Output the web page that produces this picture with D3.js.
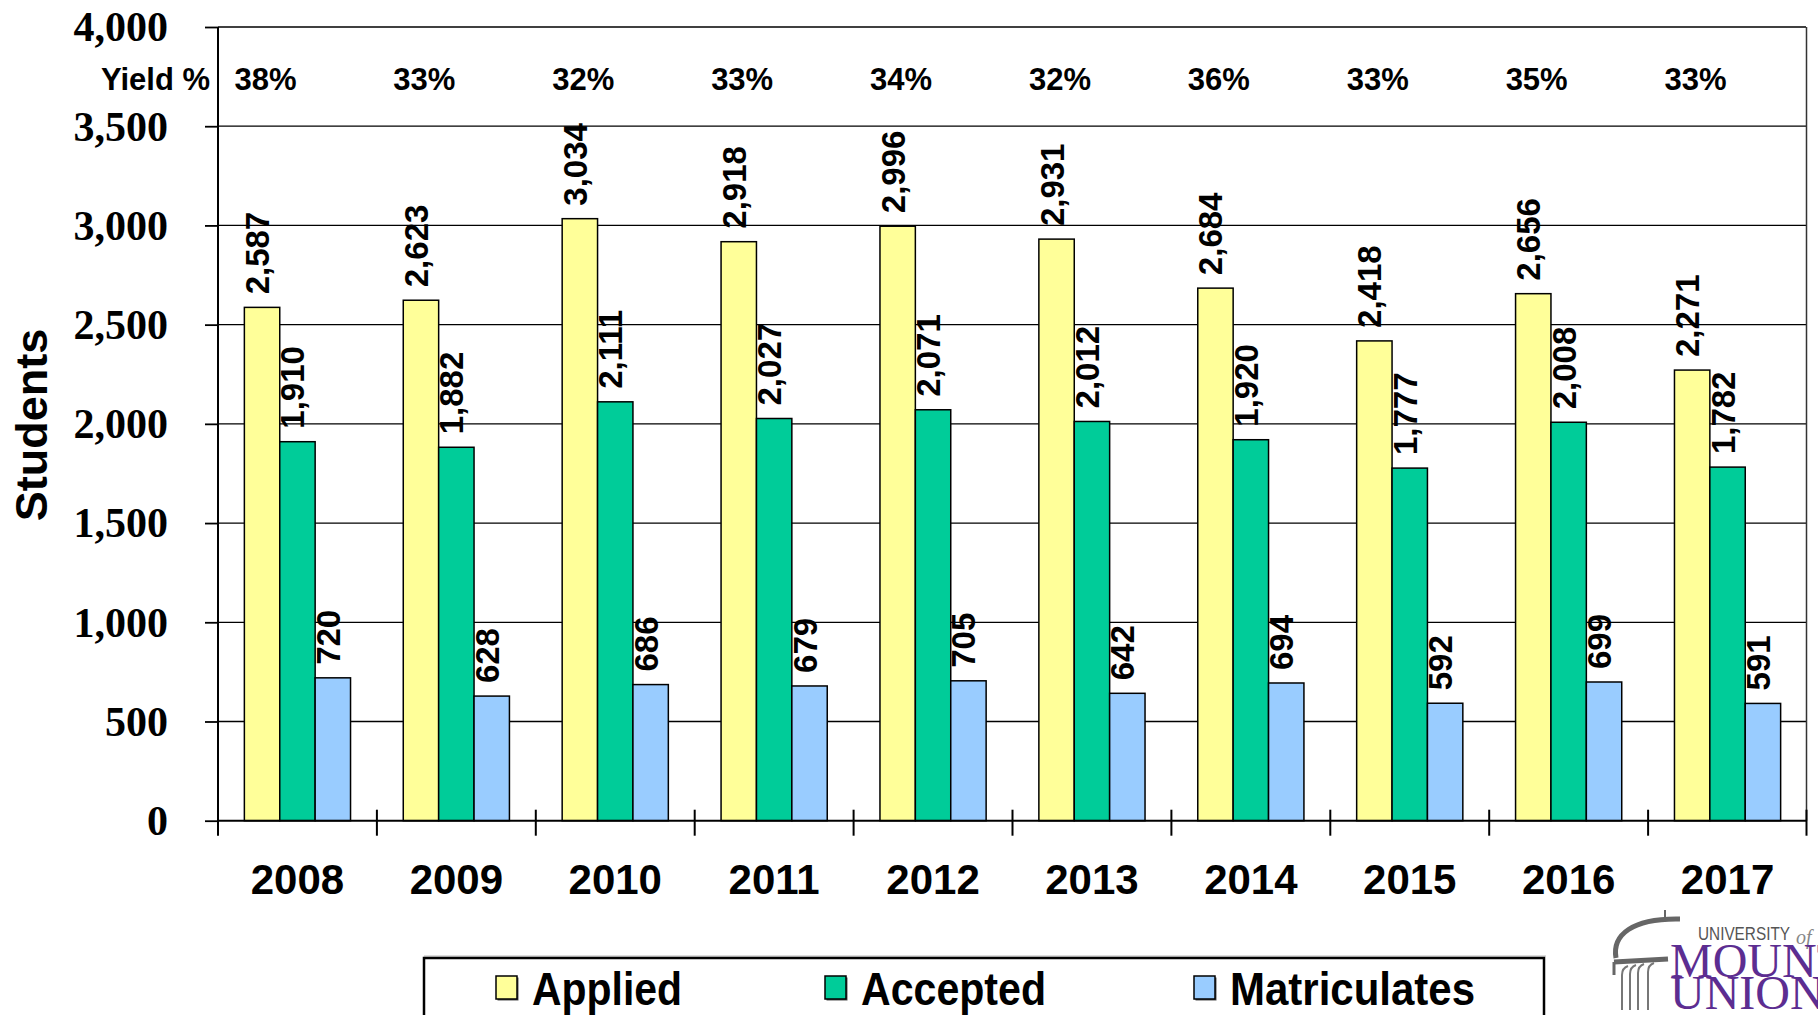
<!DOCTYPE html>
<html>
<head>
<meta charset="utf-8">
<script src="https://cdn.jsdelivr.net/npm/d3@7"></script>
<style>
  html, body { margin: 0; padding: 0; background: #fff; }
  svg { display: block; }
</style>
</head>
<body>
<svg id="chart" width="1818" height="1015"></svg>
<script>
// ---- Data ----
const years = ["2008","2009","2010","2011","2012","2013","2014","2015","2016","2017"];
const seriesNames = ["Applied","Accepted","Matriculates"];
const applied =      [2587, 2623, 3034, 2918, 2996, 2931, 2684, 2418, 2656, 2271];
const accepted =     [1910, 1882, 2111, 2027, 2071, 2012, 1920, 1777, 2008, 1782];
const matriculates = [720, 628, 686, 679, 705, 642, 694, 592, 699, 591];
const yieldPct =     [38, 33, 32, 33, 34, 32, 36, 33, 35, 33];
const yTicks = [0, 500, 1000, 1500, 2000, 2500, 3000, 3500, 4000];
const seriesValues = [applied, accepted, matriculates];
const colors = ["#FFFF99", "#00CC99", "#99CCFF"];

(function () {
const svg = d3.select("#chart");
const pL = 218, pR = 1807, pT = 27, pB = 820.7;

const x = d3.scaleBand().domain(years).range([pL, pR]).paddingInner(0).paddingOuter(0);
const xi = d3.scaleBand().domain(seriesNames).range([0, x.bandwidth()]).paddingInner(0).paddingOuter(0.745);
const y = d3.scaleLinear().domain([0, 4000]).range([pB, pT]);
const fmt = d3.format(",");

// gridlines
svg.append("g").selectAll("line").data(yTicks.filter(d => d > 0)).join("line")
  .attr("x1", pL).attr("x2", pR - 1)
  .attr("y1", d => y(d)).attr("y2", d => y(d))
  .attr("stroke", "#000").attr("stroke-width", 1.3);

// right border
svg.append("line").attr("x1", pR - 0.5).attr("x2", pR - 0.5)
  .attr("y1", pT).attr("y2", pB)
  .attr("stroke", "#333").attr("stroke-width", 1.5);

// bars
const data = [];
years.forEach((yr, i) => seriesNames.forEach((s, j) => data.push({yr, s, j, v: seriesValues[j][i]})));
svg.append("g").selectAll("rect").data(data).join("rect")
  .attr("x", d => x(d.yr) + xi(d.s))
  .attr("y", d => y(d.v))
  .attr("width", xi.bandwidth())
  .attr("height", d => y(0) - y(d.v))
  .attr("fill", d => colors[d.j])
  .attr("stroke", "#000").attr("stroke-width", 1.5);

// value labels (rotated)
svg.append("g").selectAll("text").data(data).join("text")
  .attr("transform", d => `translate(${x(d.yr) + xi(d.s) + xi.bandwidth()/2 + 7},${y(d.v) - 13}) rotate(-90)`)
  .attr("text-anchor", "start")
  .attr("font-family", "Liberation Sans, Arial, sans-serif")
  .attr("font-weight", "bold")
  .attr("font-size", 33)
  .attr("fill", "#000")
  .text(d => fmt(d.v));

// Y axis
const yAxis = d3.axisLeft(y).tickValues(yTicks).tickSize(13).tickFormat(fmt);
const gy = svg.append("g").attr("transform", `translate(${pL},0)`).call(yAxis);
gy.select(".domain").remove();
gy.selectAll(".tick line").attr("stroke", "#000").attr("stroke-width", 1.8);
gy.selectAll(".tick text")
  .attr("x", -50)
  .attr("dy", "0.33em")
  .attr("font-family", "Liberation Serif, Times New Roman, serif")
  .attr("font-weight", "bold")
  .attr("font-size", 42)
  .attr("fill", "#000");
svg.append("line").attr("x1", pL).attr("x2", pL).attr("y1", pT).attr("y2", pB + 15)
  .attr("stroke", "#000").attr("stroke-width", 2);

// X axis
svg.append("line").attr("x1", pL).attr("x2", pR).attr("y1", pB).attr("y2", pB)
  .attr("stroke", "#000").attr("stroke-width", 2);
const bounds = years.map(yr => x(yr)).concat([pR - 0.5]);
svg.append("g").selectAll("line").data(bounds.slice(1)).join("line")
  .attr("x1", d => d).attr("x2", d => d)
  .attr("y1", pB - 11).attr("y2", pB + 15)
  .attr("stroke", "#000").attr("stroke-width", 2);
svg.append("g").selectAll("text").data(years).join("text")
  .attr("x", d => x(d) + x.bandwidth()/2)
  .attr("y", 894)
  .attr("text-anchor", "middle")
  .attr("font-family", "Liberation Sans, Arial, sans-serif")
  .attr("font-weight", "bold")
  .attr("font-size", 42)
  .text(d => d);

// Yield row
svg.append("text").attr("x", 210).attr("y", 90).attr("text-anchor", "end")
  .attr("font-family", "Liberation Sans, Arial, sans-serif").attr("font-weight", "bold")
  .attr("font-size", 31).text("Yield %");
svg.append("g").selectAll("text").data(yieldPct).join("text")
  .attr("x", (d, i) => x(years[i]) + x.bandwidth()/2 - 32)
  .attr("y", 90)
  .attr("text-anchor", "middle")
  .attr("font-family", "Liberation Sans, Arial, sans-serif").attr("font-weight", "bold")
  .attr("font-size", 31)
  .text(d => d + "%");

// Y title
svg.append("text").attr("transform", "translate(47,425) rotate(-90)")
  .attr("text-anchor", "middle")
  .attr("font-family", "Liberation Sans, Arial, sans-serif").attr("font-weight", "bold")
  .attr("font-size", 45).text("Students");

// Legend
const lg = svg.append("g");
lg.append("line").attr("x1", 424).attr("x2", 1546).attr("y1", 956).attr("y2", 956).attr("stroke", "#bbb").attr("stroke-width", 1);
lg.append("rect").attr("x", 424).attr("y", 958).attr("width", 1120).attr("height", 80)
  .attr("fill", "#fff").attr("stroke", "#000").attr("stroke-width", 2.5);
const legendX = [496, 825, 1194];
const legendW = [150, 185, 245];
seriesNames.forEach((s, j) => {
  lg.append("rect").attr("x", legendX[j] + 1.5).attr("y", 977.5).attr("width", 21).attr("height", 23).attr("fill", "#555");
  lg.append("rect").attr("x", legendX[j]).attr("y", 976).attr("width", 21).attr("height", 23)
    .attr("fill", colors[j]).attr("stroke", "#000").attr("stroke-width", 1.5);
  lg.append("text").attr("x", legendX[j] + 36).attr("y", 1005)
    .attr("font-family", "Liberation Sans, Arial, sans-serif").attr("font-weight", "bold")
    .attr("font-size", 46)
    .attr("textLength", legendW[j]).attr("lengthAdjust", "spacingAndGlyphs")
    .text(s);
});

// Logo
const logo = svg.append("g");
logo.append("line").attr("x1", 1665).attr("x2", 1665).attr("y1", 910).attr("y2", 917).attr("stroke", "#666").attr("stroke-width", 2);
logo.append("path").attr("d", "M1616,958 C1612,935 1632,918 1680,919")
  .attr("fill", "none").attr("stroke", "#666").attr("stroke-width", 5);
logo.append("path").attr("d", "M1614,962 L1668,959")
  .attr("fill", "none").attr("stroke", "#666").attr("stroke-width", 5);
logo.append("path").attr("d", "M1614,962 L1614,975")
  .attr("fill", "none").attr("stroke", "#666").attr("stroke-width", 3);
[1622, 1630, 1638, 1648].forEach((cx, k) => {
  logo.append("path").attr("d", `M${cx},1010 L${cx},${975 - k} Q${cx},${968 - k} ${cx + 6},${966 - k}`)
    .attr("fill", "none").attr("stroke", "#777").attr("stroke-width", 2);
});
logo.append("text").attr("x", 1698).attr("y", 940)
  .attr("font-family", "Liberation Sans Narrow, Liberation Sans, Arial, sans-serif")
  .attr("font-size", 18).attr("fill", "#555")
  .attr("textLength", 92).attr("lengthAdjust", "spacingAndGlyphs").text("UNIVERSITY");
logo.append("text").attr("x", 1796).attr("y", 944)
  .attr("font-family", "Liberation Serif, serif").attr("font-style", "italic")
  .attr("font-size", 20).attr("fill", "#888").text("of");
logo.append("text").attr("x", 1670).attr("y", 977)
  .attr("font-family", "Liberation Serif, Times New Roman, serif")
  .attr("font-size", 48).attr("fill", "#5C2D91").text("MOUNT");
logo.append("text").attr("x", 1670).attr("y", 1009)
  .attr("font-family", "Liberation Serif, Times New Roman, serif")
  .attr("font-size", 48).attr("fill", "#5C2D91").text("UNION");
})();
</script>
</body>
</html>
